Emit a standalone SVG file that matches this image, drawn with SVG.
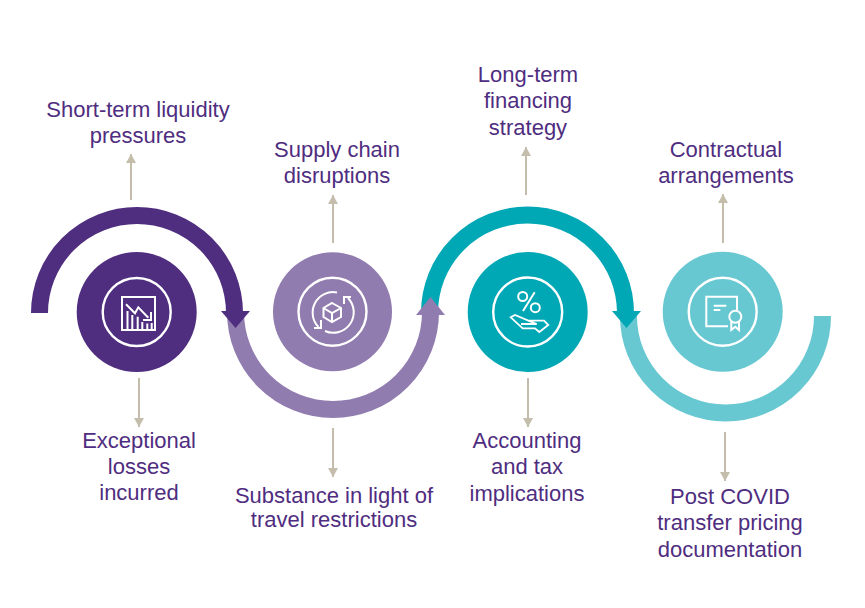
<svg xmlns="http://www.w3.org/2000/svg" width="865" height="608" viewBox="0 0 865 608">
<style>
.t{font-family:"Liberation Sans",Arial,sans-serif;font-size:22px;fill:#4f2d7f;text-anchor:middle}
.arc{fill:none;stroke-width:17}
.c{stroke:#c5bdac;stroke-width:2;fill:none}
.w{fill:none;stroke:#fff;stroke-width:2.4}
.i{fill:none;stroke:#fff;stroke-width:2;stroke-linejoin:miter}
</style>
<defs>
<marker id="ah" markerUnits="userSpaceOnUse" markerWidth="10" markerHeight="10" refX="9" refY="5" orient="auto"><path d="M0 0L9 5L0 10z" fill="#c5bdac"/></marker>
</defs>
<rect width="865" height="608" fill="#fff"/>
<g id="connectors">
<path class="arc" stroke="#917cb0" d="M235.500 312A97.500 97.500 0 0 0 430.500 312"/>
<path class="arc" stroke="#68c8d2" d="M628.500 316A97 97 0 0 0 822.500 316"/>
<path class="arc" stroke="#4f2d7f" d="M39.500 313A97.500 97.500 0 0 1 234.500 313"/>
<path fill="#4f2d7f" d="M221 311H250L235.500 328z"/>
<path class="arc" stroke="#00a7b5" d="M429.500 313A98 98 0 0 1 625.500 313"/>
<path fill="#00a7b5" d="M612 311H641L626.500 328z"/>
<path fill="#917cb0" d="M416 315H445L430.500 297z"/>
<g class="c">
<path class="c" marker-end="url(#ah)" d="M131 200V154"/>
<path class="c" marker-end="url(#ah)" d="M333 243V195"/>
<path class="c" marker-end="url(#ah)" d="M526 195V147"/>
<path class="c" marker-end="url(#ah)" d="M723 243V194"/>
<path class="c" marker-end="url(#ah)" d="M139 378V427"/>
<path class="c" marker-end="url(#ah)" d="M333 428V477"/>
<path class="c" marker-end="url(#ah)" d="M528 378V427"/>
<path class="c" marker-end="url(#ah)" d="M725 432V481"/>
</g>
</g>
<g id="node1">
<circle cx="136.700" cy="312" r="60" fill="#4f2d7f"/>
<circle class="w" cx="136.700" cy="312" r="34"/>
<rect class="i" x="122" y="297" width="33" height="33"/>
<path class="i" d="M126 304.300L135 313.300L138.300 307.300L148.300 317.700"/>
<path class="i" d="M143 320H151V312"/>
<path class="i" d="M127.500 330V311M132.300 330V315M137.700 330V316.700M142.300 330V322M147.300 330V323.500M151.700 330V323"/>
<text class="t" x="138" y="116.500">Short-term liquidity</text>
<text class="t" x="138" y="142.500">pressures</text>
<text class="t" x="139" y="447.500">Exceptional</text>
<text class="t" x="139" y="473.500">losses</text>
<text class="t" x="139" y="499.500">incurred</text>
</g>
<g id="node2">
<circle cx="332.500" cy="311.700" r="59.500" fill="#917cb0"/>
<circle class="w" cx="332.500" cy="311.700" r="34"/>
<path class="i" d="M332 303L341 308V317L332 322L323.500 317V308zM323.500 308L332 313L341 308M332 313V322"/>
<path class="i" d="M337 292.500A20.500 20.500 0 0 0 318.500 327M325 331A20.500 20.500 0 0 0 348 298"/>
<path class="i" d="M314 328H321V320M344 304V297H351"/>
<text class="t" x="337" y="157">Supply chain</text>
<text class="t" x="337" y="183">disruptions</text>
<text class="t" x="334" y="502.500">Substance in light of</text>
<text class="t" x="334" y="527">travel restrictions</text>
</g>
<g id="node3">
<circle cx="527.700" cy="312" r="60" fill="#00a7b5"/>
<circle class="w" cx="527.700" cy="312" r="34.500"/>
<circle class="i" cx="522.700" cy="296.500" r="4.500"/>
<circle class="i" cx="535.300" cy="307.700" r="4.500"/>
<path class="i" d="M534.700 292.300L523 311"/>
<path class="i" style="stroke-width:1.8" d="M510.700 317.300L515 315L528.300 320.700H544L548.300 325L539.300 332L535 328.300H522.700zM528.300 320.700L536.700 324H521"/>
<text class="t" x="528" y="81.500">Long-term</text>
<text class="t" x="528" y="107.500">financing</text>
<text class="t" x="528" y="134.500">strategy</text>
<text class="t" x="527" y="448">Accounting</text>
<text class="t" x="527" y="474">and tax</text>
<text class="t" x="527" y="500.500">implications</text>
</g>
<g id="node4">
<circle cx="722.700" cy="311.700" r="60" fill="#68c8d2"/>
<circle class="w" cx="722.700" cy="311.700" r="34"/>
<path class="i" d="M728 326.300H706.300V296.700H737V310"/>
<path class="i" d="M713.700 305.700H726.300M713.700 310H720.300"/>
<circle class="i" cx="735.300" cy="316.700" r="6"/>
<path class="i" d="M731.300 321.700V330L735.300 326.700L739 330V321.700"/>
<text class="t" x="726" y="156.800">Contractual</text>
<text class="t" x="726" y="182.800">arrangements</text>
<text class="t" x="730" y="504">Post COVID</text>
<text class="t" x="730" y="530">transfer pricing</text>
<text class="t" x="730" y="556.500">documentation</text>
</g>
</svg>
